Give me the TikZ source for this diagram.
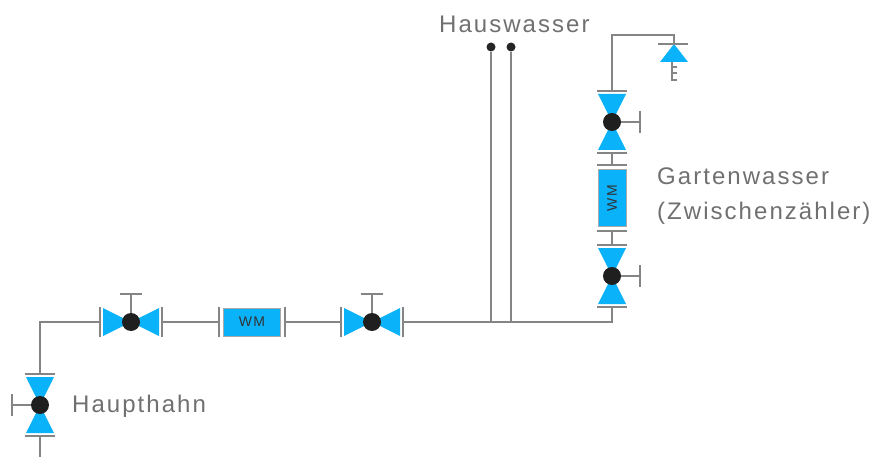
\documentclass[tikz,border=0pt]{standalone}
\usepackage{fontspec}
\usepackage{xcolor}
\usepackage{tikz}
\setmainfont[LetterSpace=8.5]{Liberation Sans}
\definecolor{fluid}{HTML}{0AB2FA}
\definecolor{pipe}{HTML}{858585}
\definecolor{ink}{HTML}{707070}
\tikzset{
    pipeline/.style={draw=pipe, line width=1.6pt},
    flange/.style={draw=pipe, line width=1.8pt},
    body/.style={fill=fluid, draw=none},
    caption/.style={anchor=west, text=ink, font=\fontsize{24}{28}\selectfont, inner sep=0pt},
    dot/.style={circle, fill=black!85, minimum size=9pt, inner sep=0pt},
    valve/.pic={
        \fill[body] (0,0) -- (-28,-14) -- (-28,14) -- cycle;
        \fill[body] (0,0) -- (28,-14) -- (28,14) -- cycle;
        \draw[flange] (-31,-15) -- (-31,15);
        \draw[flange] (31,-15) -- (31,15);
        \draw[flange, line width=1.3pt] (0,0) -- (0,-28);
        \draw[flange, line width=1.3pt] (-11,-28) -- (11,-28);
        \node[circle, fill=black!88, minimum size=18pt, inner sep=0pt] (-ball) at (0,0) {};
        \coordinate (-a) at (-31,0);
        \coordinate (-b) at (31,0);
    },
    meter/.pic={
        \node[body, draw=pipe!70, line width=.8pt, minimum width=57pt, minimum height=28pt, inner sep=0pt,
              text=black!80, font=\fontsize{14}{14}\selectfont, transform shape] (-box) at (0,0) {WM};
        \draw[flange] (-33,-15) -- (-33,15);
        \draw[flange] (33,-15) -- (33,15);
        \coordinate (-a) at (-33,0);
        \coordinate (-b) at (33,0);
    }
}
\begin{document}
\begin{tikzpicture}[x=1pt, y=-1pt]
    \useasboundingbox (0,0) rectangle (877,457);
    % main line
    \pic (haupt) [rotate=90] at (40,405) {valve};
    \pic (v1) at (131,322) {valve};
    \pic (wm1) at (252,322) {meter};
    \pic (v2) at (372,322) {valve};
    % garden branch
    \pic (v3) [rotate=-90] at (612,276) {valve};
    \pic (wm2) [rotate=90] at (612,198) {meter};
    \pic (v4) [rotate=-90] at (612,122) {valve};
    \coordinate (in) at (40,457);
    \coordinate (c1) at (40,322);
    \coordinate (j1) at (491,322);
    \coordinate (j2) at (511,322);
    \coordinate (c2) at (612,322);
    \coordinate (c3) at (612,35);
    \coordinate (c4) at (674,35);
    \coordinate (t1) at (674,44);
    \node[dot] (d1) at (491,47) {};
    \node[dot] (d2) at (511,47) {};
    \draw[pipeline] (in) -- (haupt-a);
    \draw[pipeline] (haupt-b) -- (c1) -- (v1-a);
    \draw[pipeline] (v1-b) -- (wm1-a);
    \draw[pipeline] (wm1-b) -- (v2-a);
    \draw[pipeline] (v2-b) -- (c2) -- (v3-b);
    \draw[pipeline] (j1) -- (d1);
    \draw[pipeline] (j2) -- (d2);
    \draw[pipeline] (v3-a) -- (wm2-a);
    \draw[pipeline] (wm2-b) -- (v4-b);
    \draw[pipeline] (v4-a) -- (c3) -- (c4) -- (t1);
    % tap
    \fill[body] (t1) -- (660,62) -- (688,62) -- cycle;
    \draw[flange, line width=1.3pt] (658,44) -- (688,44);
    \draw[flange, line width=1.3pt] (672,62) -- (672,80) -- (677,80) (672,67) -- (677,67) (672,73) -- (677,73);
    \node[caption] (haus) at (439,24) {Hauswasser};
    \node[caption] (garten) at (657,176) {Gartenwasser};
    \node[caption] (zwischen) at (657,213) {(Zwischenzähler)};
    \node[caption] (hahn) at (72,406) {Haupthahn};
\end{tikzpicture}
\end{document}
